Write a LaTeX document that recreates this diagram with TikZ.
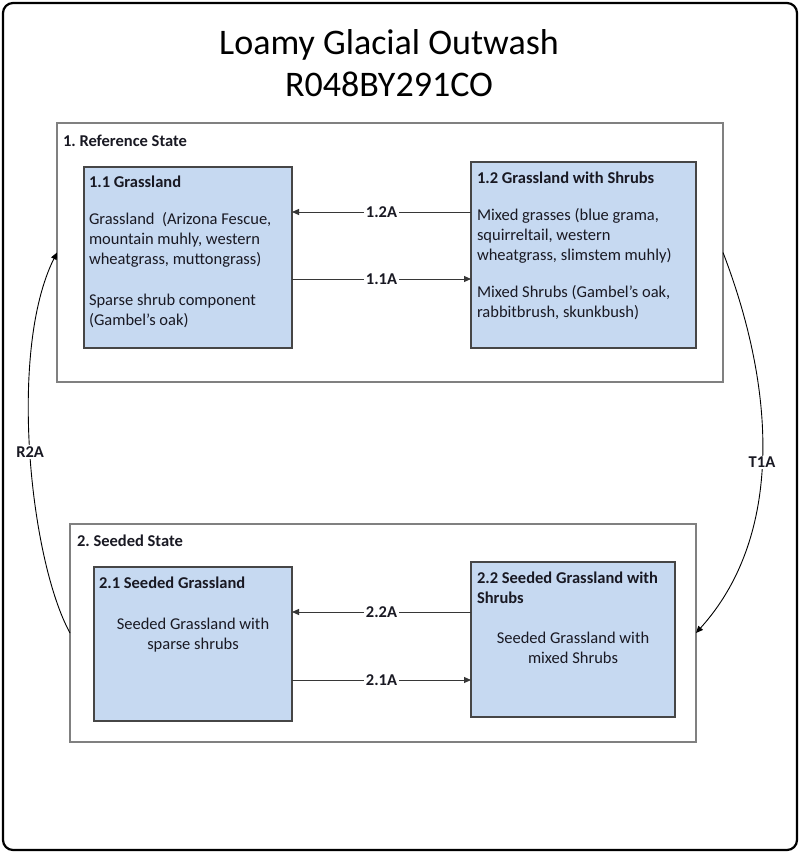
\documentclass[tikz,border=0pt]{standalone}
\usepackage{fontspec}
\setmainfont{Carlito}
\usetikzlibrary{arrows.meta}
\definecolor{boxfill}{RGB}{198,217,241}
\definecolor{boxline}{RGB}{70,70,70}
\definecolor{stateline}{RGB}{128,128,128}
\definecolor{arrline}{RGB}{55,55,55}
\definecolor{txt}{RGB}{25,25,35}
\frenchspacing
\begin{document}
\begin{tikzpicture}[x=1pt,y=-1pt,
  every node/.style={inner sep=0pt, outer sep=0pt, text=txt},
  fs/.style={font=\fontsize{16.5}{20}\selectfont},
  statebox/.style={draw=stateline, line width=1.3pt, fill=white},
  phasebox/.style={draw=boxline, line width=1.2pt, fill=boxfill},
  lab/.style={font=\fontsize{16.5}{20}\selectfont\bfseries, fill=white, inner sep=1.5pt},
  conn/.style={draw=arrline, line width=1pt, -{Triangle[length=7pt,width=6pt]}},
  curvearr/.style={draw=black, line width=0.9pt, -{Triangle[length=7pt,width=6pt]}}
]
\useasboundingbox (0,0) rectangle (800,853);
\node[draw, line width=2.2pt, rounded corners=10pt, minimum width=794pt, minimum height=847pt] (frame) at (400,426.5) {};

\node[font=\fontsize{36}{42}\selectfont, anchor=base, text=black] (title1) at (389,55) {Loamy Glacial Outwash};
\node[font=\fontsize{36}{42}\selectfont, anchor=base, text=black] (title2) at (389,97) {R048BY291CO};

% states
\node[statebox, minimum width=666pt, minimum height=259pt] (s1) at (390,252.5) {};
\node[statebox, minimum width=626pt, minimum height=218pt] (s2) at (383,633) {};
\node[fs, anchor=north west] (s1lab) at ([shift={(6,10)}]s1.north west) {\strut\textbf{1. Reference State}};
\node[fs, anchor=north west] (s2lab) at ([shift={(7,8)}]s2.north west) {\strut\textbf{2. Seeded State}};

% phases
\node[phasebox, minimum width=208pt, minimum height=181pt] (b11) at (188,257.5) {};
\node[phasebox, minimum width=225pt, minimum height=186pt] (b12) at (583.5,255) {};
\node[phasebox, minimum width=198pt, minimum height=154pt] (b21) at (193,644) {};
\node[phasebox, minimum width=204pt, minimum height=155pt] (b22) at (573,639.5) {};

\node[fs, align=left, anchor=north west] (t11) at ([shift={(5,6)}]b11.north west)
  {\strut\textbf{1.1 Grassland}\\[17pt]Grassland~ (Arizona Fescue,\\mountain muhly, western\\wheatgrass, muttongrass)\\[21pt]Sparse shrub component\\(Gambel’s oak)};
\node[fs, align=left, anchor=north west] (t12) at ([shift={(6,7)}]b12.north west)
  {\strut\textbf{1.2 Grassland with Shrubs}\\[17pt]Mixed grasses (blue grama,\\squirreltail, western\\wheatgrass, slimstem muhly)\\[17pt]Mixed Shrubs (Gambel’s oak,\\rabbitbrush, skunkbush)};
\node[fs, align=left, anchor=north west] (t21) at ([shift={(5,7)}]b21.north west)
  {\strut\textbf{2.1 Seeded Grassland}};
\node[fs, align=center, anchor=north] (d21) at ([shift={(0,48)}]b21.north)
  {\strut Seeded Grassland with\\sparse shrubs};
\node[fs, align=left, anchor=north west] (t22) at ([shift={(6,7)}]b22.north west)
  {\strut\textbf{2.2 Seeded Grassland with}\\\textbf{Shrubs}};
\node[fs, align=center, anchor=north] (d22) at ([shift={(0,67)}]b22.north)
  {\strut Seeded Grassland with\\mixed Shrubs};

% transitions within states
\coordinate (ya) at (0,212);
\coordinate (yb) at (0,279);
\coordinate (yc) at (0,612);
\coordinate (yd) at (0,680);
\draw[conn] (b12.west |- ya) -- node[lab]{1.2A} (b11.east |- ya);
\draw[conn] (b11.east |- yb) -- node[lab]{1.1A} (b12.west |- yb);
\draw[conn] (b22.west |- yc) -- node[lab]{2.2A} (b21.east |- yc);
\draw[conn] (b21.east |- yd) -- node[lab]{2.1A} (b22.west |- yd);

% state transitions
\draw[curvearr] (s1.east) .. controls +(56,146) and +(84,-93) .. node[lab, pos=0.5]{T1A} (s2.east);
\draw[curvearr] (s2.west) .. controls +(-40,-73) and +(-49,98) .. node[lab, pos=0.5]{R2A} (s1.west);
\end{tikzpicture}
\end{document}
